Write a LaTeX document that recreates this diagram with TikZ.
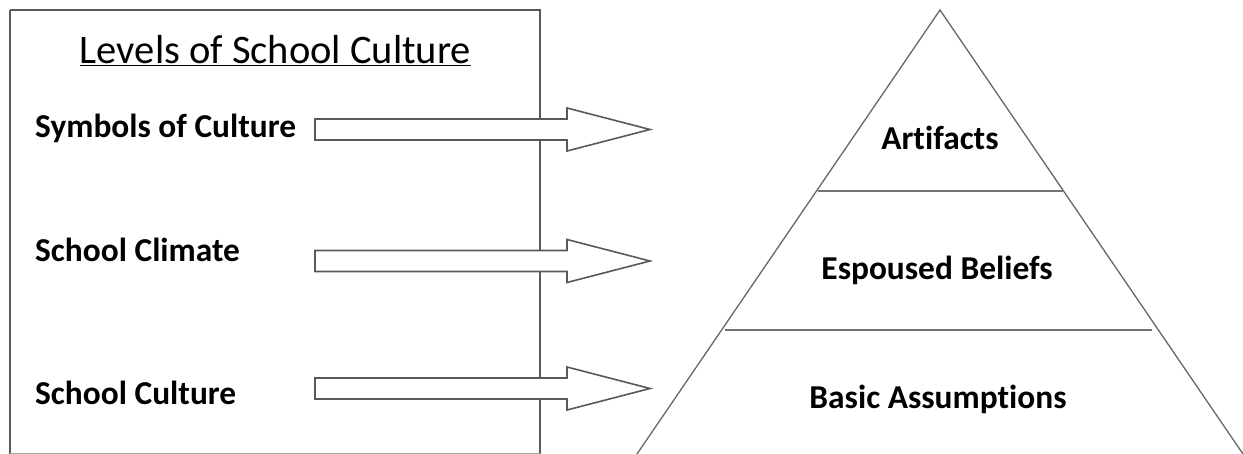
\documentclass[tikz,border=0pt]{standalone}
\usepackage{fontspec}
\setmainfont{Carlito}[Ligatures=NoCommon]
\begin{document}
\begin{tikzpicture}[x=1pt,y=-1pt]
\useasboundingbox (0,0) rectangle (1243,454);
\tikzset{
  frame/.style={draw=black!65, line width=1.7pt},
  fat/.style={draw=black!65, fill=white, line width=1.6pt, line join=miter},
  pyr/.style={draw=black!60, line width=1.3pt},
  divider/.style={draw=black!55, line width=2.4pt},
  lab/.style={font=\fontsize{33.4}{38}\selectfont\bfseries, inner sep=0pt},
  title/.style={font=\fontsize{40.5}{46}\selectfont, inner sep=0pt}
}
% left box
\draw[frame] (10,10) -- (540,10) -- (540,454) (10,10) -- (10,454);
\draw[black!35, line width=0.8pt] (10,453.5) -- (540,453.5);
\node[title, anchor=base] (title) at (275.5,64) {\underline{Levels of School Culture}};
\node[lab, anchor=base west] (l1) at (35,138) {Symbols of Culture};
\node[lab, anchor=base west] (l2) at (35,262) {School Climate};
\node[lab, anchor=base west] (l3) at (35,405) {School Culture};
% pyramid
\coordinate (apex) at (940,10);
\coordinate (bl) at (637,454);
\coordinate (br) at (1243,454);
\draw[pyr] (bl) -- (apex) -- (br);
\draw[black!35, line width=0.8pt] (bl) -- (br);
\draw[divider] (818,191) -- (1064,191);
\draw[divider] (725,330) -- (1152,330);
\node[lab, anchor=base] (p1) at (940,150) {Artifacts};
\node[lab, anchor=base] (p2) at (937,280) {Espoused Beliefs};
\node[lab, anchor=base] (p3) at (938,408) {Basic Assumptions};
% fat arrows
\newcommand\fatarrow[1]{%
  \draw[fat] (315,#1-10.5) -- (567,#1-10.5) -- (567,#1-21.5) -- (650,#1)
    -- (567,#1+21.5) -- (567,#1+10.5) -- (315,#1+10.5) -- cycle;}
\fatarrow{129.5}
\fatarrow{261}
\fatarrow{388.5}
\end{tikzpicture}
\end{document}
